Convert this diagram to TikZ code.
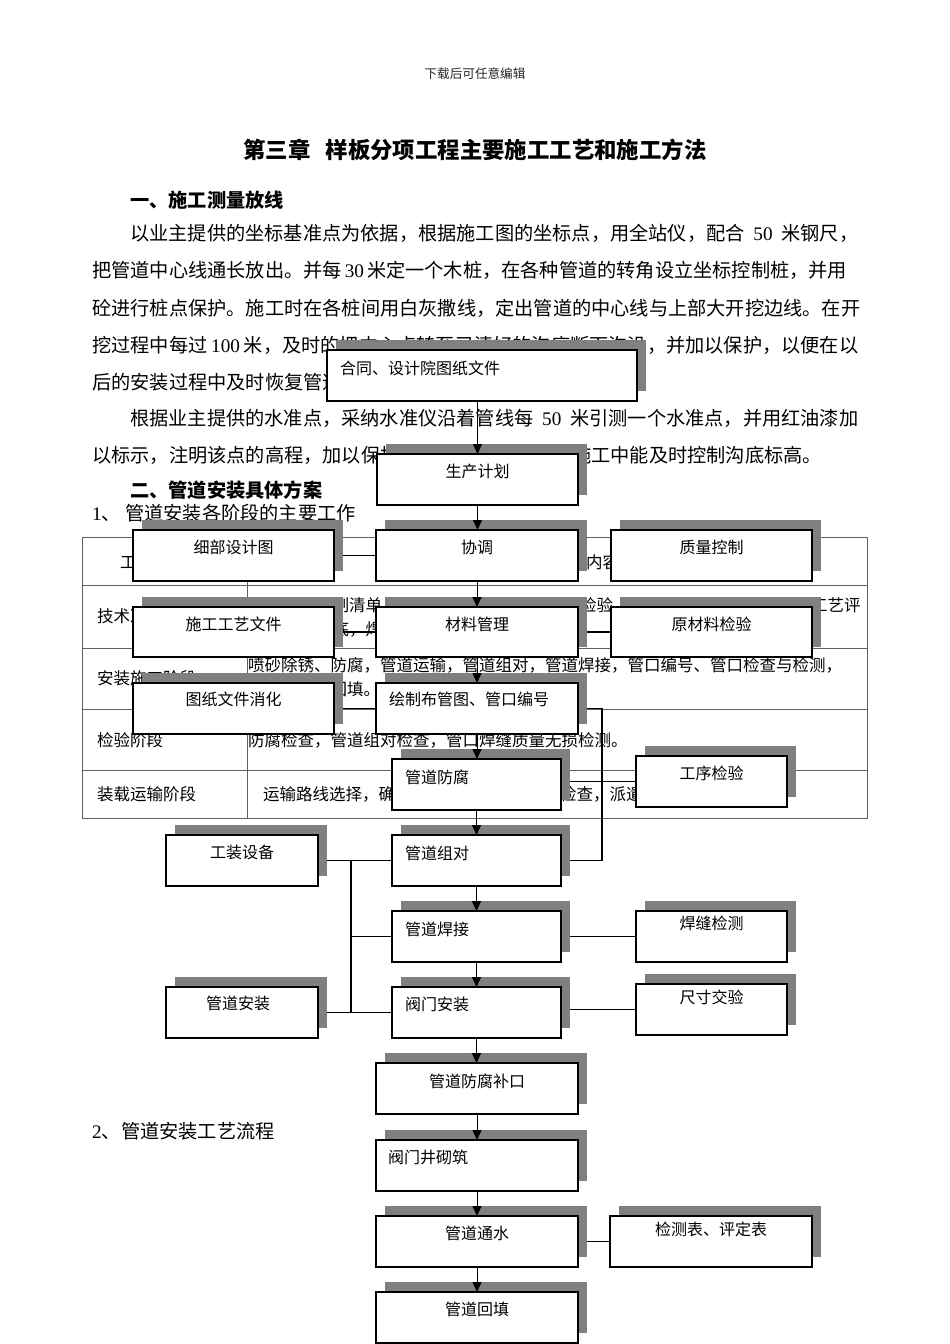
\documentclass[tikz,border=0pt]{standalone}
\usepackage{fontspec}
\setmainfont{Noto Sans CJK SC}
\newfontfamily\lat{Liberation Serif}
\usetikzlibrary{arrows.meta,calc}
\XeTeXlinebreaklocale "zh"
\XeTeXlinebreakskip=0pt plus 4pt minus 0.5pt

\pgfdeclarelayer{bgtext}
\pgfdeclarelayer{lines}
\pgfdeclarelayer{shadow}
\pgfdeclarelayer{top}
\pgfsetlayers{bgtext,lines,shadow,main,top}

\definecolor{shadowgray}{RGB}{128,128,128}
\definecolor{tablegray}{RGB}{95,95,95}

\tikzset{
  fbox/.style={draw=black, line width=1.2pt, fill=white, inner sep=0pt, outer sep=0pt},
  btext/.style={font=\fontsize{16}{16}\selectfont, inner sep=0pt},
  arr/.style={line width=1pt, -{Triangle[length=10pt,width=9pt]}},
  conn/.style={line width=1.1pt},
  tline/.style={draw=tablegray, line width=0.9pt},
  ttext/.style={font=\fontsize{16.5}{16.5}\selectfont, anchor=west, inner sep=0pt},
  body/.style={font=\fontsize{19.2}{19.2}\selectfont, anchor=west, inner sep=0pt},
  head/.style={font=\fontsize{19.2}{19.2}\selectfont\bfseries, anchor=west, inner sep=0pt},
}

\newcommand\flowbox[5]{%
  \begin{pgfonlayer}{shadow}
    \fill[shadowgray] ({#2+9},{#3-10}) rectangle ({#4+9},{#5-10});
  \end{pgfonlayer}
  \node[fbox, minimum width={(#4-#2)*1pt}, minimum height={(#5-#3)*1pt}] (#1) at ({(#2+#4)/2},{(#3+#5)/2}) {};
}
\newcommand\ctext[3]{\node[btext] (#1-t) at ($(#1.north)+(0,#2)$) {#3};}
\newcommand\ltext[4]{\node[btext,anchor=west] (#1-t) at ($(#1.north west)+(#2,#3)$) {#4};}

\begin{document}
\begin{tikzpicture}[x=1pt,y=-1pt]
\useasboundingbox (0,0) rectangle (950,1344);

\begin{pgfonlayer}{bgtext}
\fill[white] (0,0) rectangle (950,1344);
\node[font=\fontsize{12.6}{12.6}\selectfont, text=black!85, inner sep=0pt] (hdr) at (475,74) {下载后可任意编辑};
\node[font=\fontsize{22.4}{22.4}\selectfont\bfseries, inner sep=0pt] (title) at (475,150) {第三章\hspace{15pt}样板分项工程主要施工工艺和施工方法};
\node[head] (h1) at (130,200) {一、施工测量放线};
\node[body] (l1) at (130,233) {\makebox[728pt][s]{以业主提供的坐标基准点为依据，根据施工图的坐标点，用全站仪，配合 {\lat 50} 米钢尺，}};
\node[body] (l2) at (92,270) {\makebox[766pt][s]{把管道中心线通长放出。并每\hspace{3pt}{\lat 30}\hspace{3pt}米定一个木桩，在各种管道的转角设立坐标控制桩，并用}};
\node[body] (l3) at (92,308) {砼进行桩点保护。施工时在各桩间用白灰撒线，定出管道的中心线与上部大开挖边线。在开};
\node[body] (l4) at (92,345) {\makebox[766pt][s]{挖过程中每过 {\lat 100} 米，及时的把中心点转至已清好的沟底断面沟沿，并加以保护，以便在以}};
\node[body] (l5) at (92,382) {后的安装过程中及时恢复管道中心线。};
\node[body] (l6) at (130,418) {\makebox[728pt][s]{根据业主提供的水准点，采纳水准仪沿着管线每 {\lat 50} 米引测一个水准点，并用红油漆加}};
\node[body] (l7) at (92,455) {以标示，注明该点的高程，加以保护，以便在以后的管道施工中能及时控制沟底标高。};
\node[head] (h2) at (130,490) {二、管道安装具体方案};
\node[body] (s1) at (92,513) {{\lat 1}、 管道安装各阶段的主要工作};
\node[body] (s2) at (92,1131) {{\lat 2}、管道安装工艺流程};

% table
\draw[tline] (82,537) rectangle (867,818);
\draw[tline] (82,585) -- (867,585);
\draw[tline] (82,648) -- (867,648);
\draw[tline] (82,709) -- (867,709);
\draw[tline] (82,770) -- (867,770);
\draw[tline] (247,537) -- (247,818);
\node[ttext] (th1) at (120,562) {工作阶段};
\node[ttext] (th2) at (553,562) {工作内容};
\node[ttext] (r2a) at (97,616) {技术准备阶段};
\node[ttext] (r2b) at (250,605) {图纸会审编制清单，材料采购订货，材料进场检验，编制施工组织设计，焊接工艺评};
\node[ttext] (r2c) at (250,629) {定，技术交底，焊工考试。};
\node[ttext] (r3a) at (97,678) {安装施工阶段};
\node[ttext] (r3b) at (248,665) {\makebox[609pt][s]{喷砂除锈、防腐，管道运输，管道组对，管道焊接，管口编号、管口检查与检测，}};
\node[ttext] (r3c) at (248,689) {管道通水，回填。};
\node[ttext] (r4a) at (97,740) {检验阶段};
\node[ttext] (r4b) at (248,740) {防腐检查，管道组对检查，管口焊缝质量无损检测。};
\node[ttext] (r5a) at (97,794) {装载运输阶段};
\node[ttext] (r5b) at (263,794) {运输路线选择，确定运输方式车辆，装车检查，派遣专人押运。};
\end{pgfonlayer}

% flowchart boxes
\flowbox{hetong}{327}{350}{637}{401}
\flowbox{scjh}{377}{454}{578}{505}
\flowbox{xt}{376}{530}{578}{581}
\flowbox{xbsj}{133}{530}{334}{581}
\flowbox{zlkz}{611}{530}{812}{581}
\flowbox{clgl}{376}{607}{578}{657}
\flowbox{sggy}{133}{607}{334}{657}
\flowbox{ycl}{611}{607}{812}{657}
\flowbox{hz}{376}{683}{578}{734}
\flowbox{tzwj}{133}{683}{334}{734}
\flowbox{gdff}{392}{759}{561}{810}
\flowbox{gxjy}{636}{756}{787}{807}
\flowbox{gzsb}{166}{835}{318}{886}
\flowbox{gdzd}{392}{835}{561}{886}
\flowbox{gdhj}{392}{911}{561}{962}
\flowbox{hfjc}{636}{911}{787}{962}
\flowbox{gdaz}{166}{987}{318}{1038}
\flowbox{fmaz}{392}{987}{561}{1038}
\flowbox{ccjy}{636}{984}{787}{1035}
\flowbox{bk}{376}{1063}{578}{1114}
\flowbox{fmj}{376}{1140}{578}{1191}
\flowbox{gdts}{376}{1216}{578}{1267}
\flowbox{jcb}{610}{1216}{812}{1267}
\flowbox{gdht}{376}{1292}{578}{1343}

% box texts
\ltext{hetong}{13}{18}{合同、设计院图纸文件}
\ctext{scjh}{17}{生产计划}
\ctext{xt}{17}{协调}
\ctext{xbsj}{17}{细部设计图}
\ctext{zlkz}{17}{质量控制}
\ctext{clgl}{17}{材料管理}
\ctext{sggy}{17}{施工工艺文件}
\ctext{ycl}{17}{原材料检验}
\ltext{hz}{13}{16}{绘制布管图、管口编号}
\ctext{tzwj}{16}{图纸文件消化}
\ltext{gdff}{13}{18}{管道防腐}
\ctext{gxjy}{17}{工序检验}
\ctext{gzsb}{17}{工装设备}
\ltext{gdzd}{13}{18}{管道组对}
\ltext{gdhj}{13}{18}{管道焊接}
\ctext{hfjc}{12}{焊缝检测}
\node[btext] (gdaz-t) at ($(gdaz.north)+(-4,16)$) {管道安装};
\ltext{fmaz}{13}{17}{阀门安装}
\ctext{ccjy}{13}{尺寸交验}
\ctext{bk}{18}{管道防腐补口}
\ltext{fmj}{12}{17}{阀门井砌筑}
\ctext{gdts}{17}{管道通水}
\ctext{jcb}{13}{检测表、评定表}
\ctext{gdht}{17}{管道回填}

% plain connectors (under the shadows)
\coordinate (busx) at (351,0);
\coordinate (loopx) at (602,0);
\begin{pgfonlayer}{lines}
\draw[conn] (xbsj.east) -- (xt.west);
\draw[conn] (sggy.east) -- (clgl.west);
\draw[conn] (tzwj.east) -- (hz.west);
\draw[conn] (clgl.east) -- (ycl.west);
\draw[conn] (gdff.east |- gxjy.west) -- (gxjy.west);
\draw[conn] (hz.east) -- (loopx |- hz.east) -- (loopx |- gdzd.east) -- (gdzd.east);
\draw[conn] (gzsb.east) -- (gdzd.west);
\draw[conn] (busx |- gzsb.east) -- (busx |- gdaz.east);
\draw[conn] (busx |- gdhj.west) -- (gdhj.west);
\draw[conn] (gdaz.east) -- (fmaz.west);
\draw[conn] (gdhj.east) -- (hfjc.west);
\draw[conn] (fmaz.east |- ccjy.west) -- (ccjy.west);
\draw[conn] (gdts.east) -- (jcb.west);
\end{pgfonlayer}

% arrows
\begin{pgfonlayer}{top}
\draw[arr] (hetong.south -| scjh.north) -- (scjh.north);
\draw[arr] (scjh.south) -- (scjh.south |- xt.north);
\draw[arr] (xt.south) -- (clgl.north);
\draw[arr] (clgl.south) -- (hz.north);
\draw[arr] (hz.south) -- (hz.south |- gdff.north);
\draw[arr] (gdff.south) -- (gdzd.north);
\draw[arr] (gdzd.south) -- (gdhj.north);
\draw[arr] (gdhj.south) -- (fmaz.north);
\draw[arr] (fmaz.south) -- (fmaz.south |- bk.north);
\draw[arr] (bk.south) -- (fmj.north);
\draw[arr] (fmj.south) -- (gdts.north);
\draw[arr] (gdts.south) -- (gdht.north);
\end{pgfonlayer}
\end{tikzpicture}
\end{document}
